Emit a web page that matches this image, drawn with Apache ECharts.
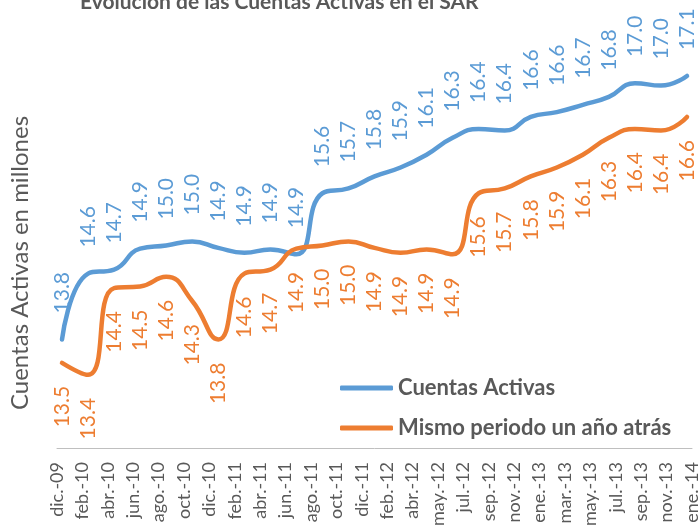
<!DOCTYPE html>
<html>
<head>
<meta charset="utf-8">
<script src="https://cdn.jsdelivr.net/npm/echarts@6/dist/echarts.min.js"></script>
<style>
  html, body { margin: 0; padding: 0; background: #fff; }
  #chart { width: 699px; height: 526px; }
</style>
</head>
<body>
<div id="chart"></div>
<script>
// etiquetas del eje (26) y valores bimestrales (25 puntos)
let meses = ['dic.-09', 'feb.-10', 'abr.-10', 'jun.-10', 'ago.-10', 'oct.-10', 'dic.-10',
  'feb.-11', 'abr.-11', 'jun.-11', 'ago.-11', 'oct.-11', 'dic.-11', 'feb.-12', 'abr.-12',
  'may.-12', 'jul.-12', 'sep.-12', 'nov.-12', 'ene.-13', 'mar.-13', 'may.-13', 'jul.-13',
  'sep.-13', 'nov.-13', 'ene.-14'];
let cuentasActivas = [13.80, 14.62, 14.67, 14.93, 14.97, 15.02, 14.94, 14.88, 14.92, 14.86,
  15.62, 15.68, 15.83, 15.94, 16.10, 16.31, 16.42, 16.40, 16.57, 16.63, 16.72, 16.82,
  16.99, 16.96, 17.08];
let anioAtras = [13.51, 13.36, 14.44, 14.46, 14.58, 14.28, 13.80, 14.62, 14.67, 14.93,
  14.97, 15.02, 14.94, 14.88, 14.92, 14.86, 15.62, 15.68, 15.83, 15.94, 16.10, 16.31,
  16.42, 16.40, 16.57];

let font = 'Lato, "Open Sans", sans-serif';
let gris = '#595959';

function serieLinea(nombre, valores, color, arriba) {
  return {
    name: nombre,
    type: 'line',
    xAxisIndex: 1,
    smooth: true,
    showSymbol: true,
    symbol: 'circle',
    symbolSize: 0.1,
    color: color,
    lineStyle: { width: 4.5, cap: 'round', join: 'round' },
    label: {
      show: true,
      position: arriba ? 'top' : 'bottom',
      distance: arriba ? 26 : 23,
      rotate: 90,
      align: arriba ? 'left' : 'right',
      verticalAlign: 'middle',
      fontFamily: font,
      fontSize: 21,
      color: color,
      formatter: p => p.value[1].toFixed(1)
    },
    data: valores.map((v, i) => [i, v])
  };
}

let myChart = echarts.init(document.getElementById('chart'));
let option = {
  backgroundColor: '#fff',
  animation: false,
  title: {
    text: 'Evolución de las Cuentas Activas en el SAR',
    left: 75,
    top: -13,
    textStyle: { fontFamily: font, fontSize: 21, fontWeight: 'bold', color: gris }
  },
  legend: {
    orient: 'vertical',
    left: 340,
    top: 377,
    padding: 0,
    itemWidth: 53,
    itemHeight: 5,
    itemGap: 18,
    icon: 'roundRect',
    textStyle: { fontFamily: font, fontSize: 22, fontWeight: 'bold', color: gris, lineHeight: 20 },
    data: ['Cuentas Activas', 'Mismo periodo un año atrás']
  },
  grid: {
    left: 57,
    right: 7,
    top: 47,
    bottom: 78,
    outerBoundsMode: 'none'
  },
  xAxis: [
    {
      type: 'category',
      data: meses,
      boundaryGap: false,
      position: 'bottom',
      axisLine: { lineStyle: { color: '#bfbfbf', width: 1 } },
      axisTick: { show: false },
      axisLabel: {
        interval: 0,
        rotate: 90,
        margin: 14,
        fontFamily: font,
        fontSize: 18,
        color: gris
      }
    },
    {
      type: 'value',
      min: -0.192,
      max: 24.192,
      position: 'bottom',
      show: false
    }
  ],
  yAxis: {
    type: 'value',
    min: 12.45,
    max: 17.44,
    show: false
  },
  graphic: [{
    type: 'text',
    x: 20,
    y: 263,
    rotation: Math.PI / 2,
    style: {
      text: 'Cuentas Activas en millones',
      fontFamily: font,
      fontSize: 24,
      fill: gris,
      textAlign: 'center',
      textVerticalAlign: 'middle'
    }
  }],
  series: [
    serieLinea('Cuentas Activas', cuentasActivas, '#5B9BD5', true),
    serieLinea('Mismo periodo un año atrás', anioAtras, '#ED7D31', false)
  ]
};
myChart.setOption(option);
</script>
</body>
</html>
